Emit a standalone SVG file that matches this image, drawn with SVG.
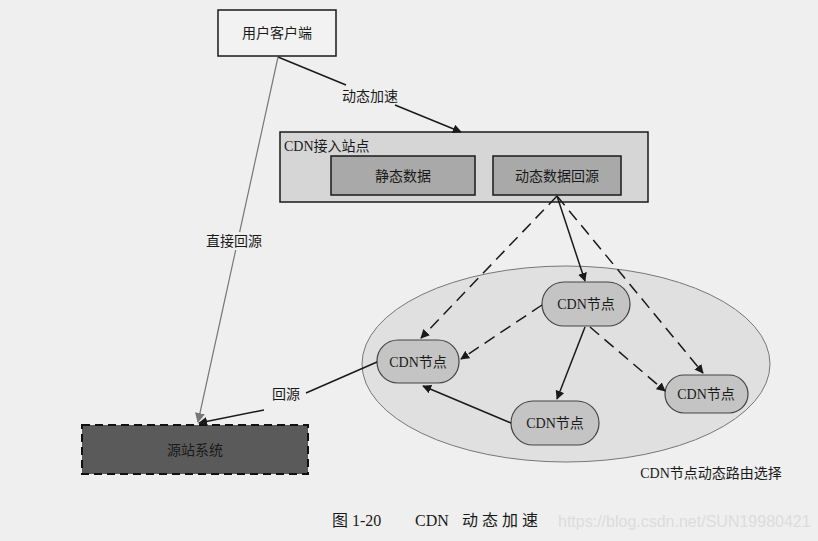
<svg xmlns="http://www.w3.org/2000/svg" width="818" height="541" viewBox="0 0 818 541">
<defs>
<marker id="ah" viewBox="0 0 10 10" refX="9" refY="5" markerWidth="9" markerHeight="9" markerUnits="userSpaceOnUse" orient="auto"><path d="M0,0 L10,5 L0,10 z" fill="#1a1a1a"/></marker>
<marker id="ahg" viewBox="0 0 10 10" refX="9" refY="5" markerWidth="10" markerHeight="10" markerUnits="userSpaceOnUse" orient="auto"><path d="M0,0 L10,5 L0,10 z" fill="#777"/></marker>
</defs>
<style>
text{font-family:"Liberation Serif","Noto Sans CJK SC",serif;font-size:14px;fill:#1a1a1a}
.c{text-anchor:middle;dominant-baseline:central}
.box{stroke:#1a1a1a;stroke-width:1.5}
.node{fill:#c4c4c4;stroke:#444;stroke-width:1.2}
.sl{stroke:#1a1a1a;stroke-width:1.5;fill:none;marker-end:url(#ah)}
.dl{stroke:#1a1a1a;stroke-width:1.5;fill:none;stroke-dasharray:12 7;marker-end:url(#ah)}
.cap{font-size:16px;dominant-baseline:central}
</style>
<rect width="818" height="541" fill="#efefef"/>
<g id="route-area">
<ellipse cx="566" cy="364" rx="204" ry="98" fill="#e0e0e0" stroke="#777" stroke-width="1"/>
<text x="711" y="473" class="c">CDN节点动态路由选择</text>
</g>
<g id="client"><rect x="218" y="10" width="118" height="46" fill="#f2f2f2" class="box"/><text x="277" y="33" class="c">用户客户端</text></g>
<g id="access"><rect x="280" y="132" width="368" height="70" fill="#d6d6d6" class="box"/><text x="284" y="146" dominant-baseline="central">CDN接入站点</text></g>
<g id="static"><rect x="331" y="156" width="144" height="39" fill="#a9a9a9" class="box"/><text x="403" y="176" class="c">静态数据</text></g>
<g id="dynamic"><rect x="493" y="156" width="128" height="39" fill="#a9a9a9" class="box"/><text x="557" y="176" class="c">动态数据回源</text></g>
<g id="origin"><rect x="82" y="425" width="226" height="49" fill="#5a5a5a" stroke="#111" stroke-width="2" stroke-dasharray="8 5"/><text x="195" y="450" class="c" fill="#111">源站系统</text></g>
<g id="n-top"><rect x="542" y="282" width="88" height="44" rx="22" class="node"/><text x="586" y="304" class="c">CDN节点</text></g>
<g id="n-left"><rect x="377" y="340" width="82" height="43" rx="21" class="node"/><text x="418" y="362" class="c">CDN节点</text></g>
<g id="n-bottom"><rect x="511" y="401" width="88" height="44" rx="22" class="node"/><text x="555" y="423" class="c">CDN节点</text></g>
<g id="n-right"><rect x="665" y="375" width="83" height="38" rx="19" class="node"/><text x="706" y="394" class="c">CDN节点</text></g>
<g id="connectors">
<path d="M278,57 L346,85" stroke="#1a1a1a" stroke-width="1.5"/>
<path d="M395,105 L461,132" class="sl"/>
<text x="370" y="96" class="c">动态加速</text>
<path d="M278,57 L198,422" stroke="#777" stroke-width="1.2" fill="none" marker-end="url(#ahg)"/>
<rect x="198" y="232" width="72" height="18" fill="#efefef"/>
<text x="234" y="241" class="c">直接回源</text>
<path d="M377,362 L306,393" stroke="#1a1a1a" stroke-width="1.5"/>
<path d="M264,410 L199,423" class="sl"/>
<text x="286" y="394" class="c">回源</text>
<path d="M557,196 L585,281" class="sl"/>
<path d="M557,196 L421,338" class="dl"/>
<path d="M557,196 L703,373" class="dl"/>
<path d="M542,305 L461,359" class="dl"/>
<path d="M585,327 L557,399" class="sl"/>
<path d="M590,327 L665,391" class="dl"/>
<path d="M511,423 L423,386" class="sl"/>
</g>
<g id="caption">
<text x="332" y="520" class="cap">图 1-20</text>
<text x="415" y="520" class="cap">CDN</text>
<text x="462" y="520" class="cap" style="letter-spacing:4px">动态加速</text>
</g>
<text x="558" y="521" dominant-baseline="central" style="font-family:'Liberation Sans',sans-serif;font-size:16px;fill:#dcdcdc">https://blog.csdn.net/SUN19980421</text>
</svg>
